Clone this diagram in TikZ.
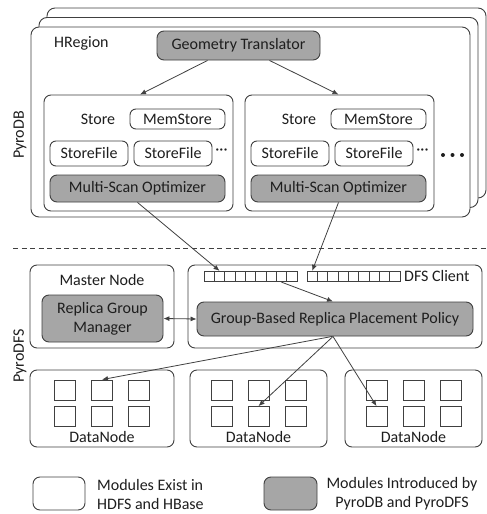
\documentclass[tikz,border=0pt]{standalone}
\usepackage{fontspec}
\setmainfont{Carlito}
\usetikzlibrary{arrows.meta}
\definecolor{linegray}{RGB}{64,64,64}
\definecolor{modgray}{RGB}{166,166,166}
\definecolor{txtgray}{RGB}{30,30,30}

\tikzset{
  base/.style={draw=linegray, line width=0.9pt, rounded corners=7pt, inner sep=0pt, text=txtgray, font=\fontsize{16}{19}\selectfont},
  oldmod/.style={base, fill=white},
  newmod/.style={base, fill=modgray},
  cell/.style={draw=linegray, line width=0.8pt, inner sep=0pt, fill=white},
  lbl/.style={text=txtgray, font=\fontsize{16}{19}\selectfont, inner sep=0pt},
  flow/.style={draw=linegray, line width=0.8pt, -{Latex[length=6pt,width=5pt]}},
}

\begin{document}
\begin{tikzpicture}[x=1pt,y=-1pt]
\useasboundingbox (0,0) rectangle (487,514);

\foreach \dx/\dy/\k in {16/-19/back, 8/-9.5/mid, 0/0/front}
  \node[oldmod, rounded corners=8pt, minimum width=439pt, minimum height=190pt] (reg\k) at (250.5+\dx,122+\dy) {};
\node[lbl, anchor=west] (hreg) at (54,43) {HRegion};
\node[newmod, minimum width=163pt, minimum height=29pt] (gt) at (238.5,45.5) {Geometry Translator};

\foreach \sx/\s in {0/a, 201/b}
{
    \node[oldmod, minimum width=189pt, minimum height=116pt] (store\s) at (138.5+\sx,153) {};
    \node[lbl] (st\s) at (98+\sx,119) {Store};
    \node[oldmod, rounded corners=6pt, minimum width=95pt, minimum height=20pt] (mem\s) at (177.5+\sx,119) {MemStore};
    \node[oldmod, rounded corners=6pt, minimum width=78pt, minimum height=25pt] (sfa\s) at (89+\sx,153.5) {StoreFile};
    \node[oldmod, rounded corners=6pt, minimum width=78pt, minimum height=25pt] (sfb\s) at (173+\sx,153.5) {StoreFile};
    \node[lbl] (dots\s) at (221.5+\sx,152) {···};
    \node[newmod, minimum width=175pt, minimum height=27pt] (mso\s) at (137.5+\sx,188.5) {Multi-Scan Optimizer};
}
\foreach \i in {0,1,2}
    \fill[txtgray] (443+9.5*\i,155) circle (2pt);

\draw[flow] ([xshift=-31pt]gt.south) -- ([xshift=1.5pt]storea.north);
\draw[flow] ([xshift=31pt]gt.south) -- ([xshift=-1pt]storeb.north);

\draw[linegray, line width=0.8pt, dash pattern=on 5pt off 3.5pt] (13,248) -- (487,248);
\node[lbl, rotate=90] (pdb) at (20,135) {PyroDB};
\node[lbl, rotate=90] (pdfs) at (20,356) {PyroDFS};

\node[oldmod, minimum width=144pt, minimum height=83pt] (master) at (102,306.5) {};
\node[lbl] (mastert) at (102,280) {Master Node};
\node[newmod, align=center, minimum width=121pt, minimum height=47pt] (rgm) at (102.5,318.5) {Replica Group\\Manager};

\node[oldmod, minimum width=294pt, minimum height=83pt] (client) at (335,306.5) {};
\foreach \i in {0,...,8}
{
    \node[cell, minimum width=10.33pt, minimum height=10.5pt] (qa\i) at (209.2+10.33*\i,276.5) {};
    \node[cell, minimum width=10.33pt, minimum height=10.5pt] (qb\i) at (312.2+10.33*\i,276.5) {};
}
\node[lbl, anchor=west] (clientt) at (404,276) {DFS Client};
\node[newmod, minimum width=276pt, minimum height=34pt] (gbrp) at (335,319) {Group-Based Replica Placement Policy};

\draw[flow] (msoa.south) -- (qa1.north);
\draw[flow] (msob.south) -- (qb0.north);
\draw[flow] (qa7.south) -- ([xshift=-2pt]gbrp.north);
\draw[flow, {Latex[length=6pt,width=5pt]}-{Latex[length=6pt,width=5pt]}] (rgm.east) -- (gbrp.west);

\foreach \c/\w/\k in {102/144/1, 258.5/137/2, 413.5/137/3}
{
    \node[oldmod, minimum width=\w pt, minimum height=77pt] (dn\k) at (\c,408.5) {};
    \foreach \r/\y in {1/390, 2/416.5}
        \foreach \j/\dx in {1/-37, 2/0, 3/37}
            \node[cell, minimum width=21pt, minimum height=20pt] (dn\k-\r-\j) at (\c+\dx,\y) {};
    \node[lbl] (dnt\k) at (\c,437) {DataNode};
}

\draw[flow] ([xshift=-3pt]gbrp.south) -- (dn1-1-2.north);
\draw[flow] ([xshift=-2pt]gbrp.south) -- (dn2-2-2.north);
\draw[flow] ([xshift=-2pt]gbrp.south) -- (dn3-2-1.north);

\node[oldmod, minimum width=52pt, minimum height=33pt] (legold) at (59,493.5) {};
\node[lbl, anchor=west, align=left] (legoldt) at (97,494) {Modules Exist in\\HDFS and HBase};
\node[newmod, minimum width=53pt, minimum height=33pt] (legnew) at (290.5,493.5) {};
\node[lbl, align=center] (legnewt) at (402,494) {Modules Introduced by\\PyroDB and PyroDFS};
\end{tikzpicture}
\end{document}
